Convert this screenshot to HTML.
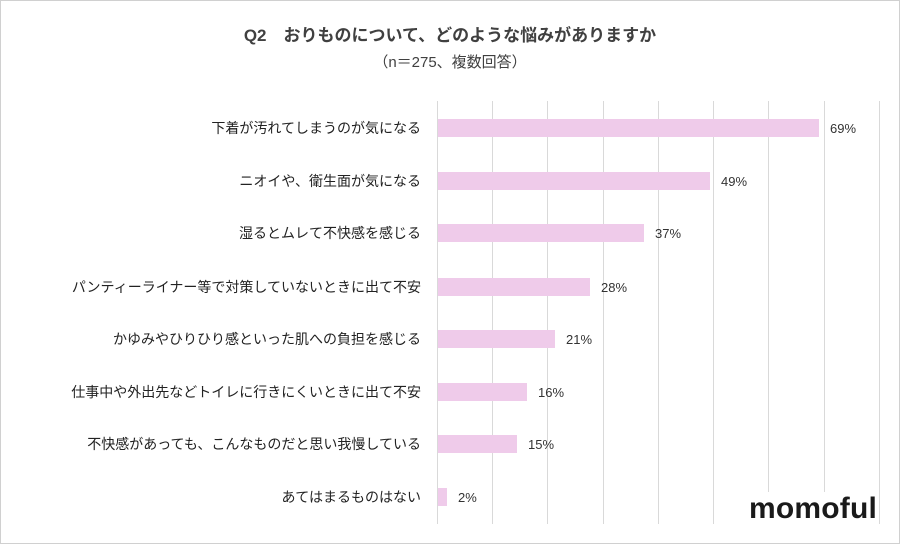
<!DOCTYPE html>
<html><head><meta charset="utf-8"><style>
body{margin:0;background:#fff;}
.w{position:relative;width:898px;height:542px;border:1px solid #d0d0d0;overflow:hidden;font-family:"Liberation Sans","Noto Sans CJK JP",sans-serif;}
.t{position:absolute;left:0;width:898px;text-align:center;color:#404040;}
.g{position:absolute;top:100px;height:423px;width:1px;background:#d9d9d9;}
.b{position:absolute;left:437px;height:18px;background:#efcbea;}
.l{position:absolute;right:478px;font-size:14px;color:#222;white-space:nowrap;line-height:18px;}
.v{position:absolute;font-size:13px;color:#333;line-height:18px;}
</style></head><body><div class="w">
<div class="t" style="top:20px;font-size:17px;font-weight:bold;">Q2　おりものについて、どのような悩みがありますか</div>
<div class="t" style="top:50px;font-size:15px;">（n＝275、複数回答）</div>
<div class="g" style="left:436px"></div><div class="g" style="left:491px"></div><div class="g" style="left:546px"></div><div class="g" style="left:602px"></div><div class="g" style="left:657px"></div><div class="g" style="left:712px"></div><div class="g" style="left:767px"></div><div class="g" style="left:823px"></div><div class="g" style="left:878px"></div>

<div class="l" style="top:118px">下着が汚れてしまうのが気になる</div><div class="b" style="top:118px;width:381px"></div><div class="v" style="top:119px;left:829px">69%</div>
<div class="l" style="top:171px">ニオイや、衛生面が気になる</div><div class="b" style="top:171px;width:272px"></div><div class="v" style="top:172px;left:720px">49%</div>
<div class="l" style="top:223px">湿るとムレて不快感を感じる</div><div class="b" style="top:223px;width:206px"></div><div class="v" style="top:224px;left:654px">37%</div>
<div class="l" style="top:277px">パンティーライナー等で対策していないときに出て不安</div><div class="b" style="top:277px;width:152px"></div><div class="v" style="top:278px;left:600px">28%</div>
<div class="l" style="top:329px">かゆみやひりひり感といった肌への負担を感じる</div><div class="b" style="top:329px;width:117px"></div><div class="v" style="top:330px;left:565px">21%</div>
<div class="l" style="top:382px">仕事中や外出先などトイレに行きにくいときに出て不安</div><div class="b" style="top:382px;width:89px"></div><div class="v" style="top:383px;left:537px">16%</div>
<div class="l" style="top:434px">不快感があっても、こんなものだと思い我慢している</div><div class="b" style="top:434px;width:79px"></div><div class="v" style="top:435px;left:527px">15%</div>
<div class="l" style="top:487px">あてはまるものはない</div><div class="b" style="top:487px;width:9px"></div><div class="v" style="top:488px;left:457px">2%</div>

<div style="position:absolute;left:746px;top:491px;font-size:30px;font-weight:bold;color:#1a1a1a;letter-spacing:0.2px;background:#fff;padding:0 2px;line-height:34px;">momoful</div>
</div></body></html>
